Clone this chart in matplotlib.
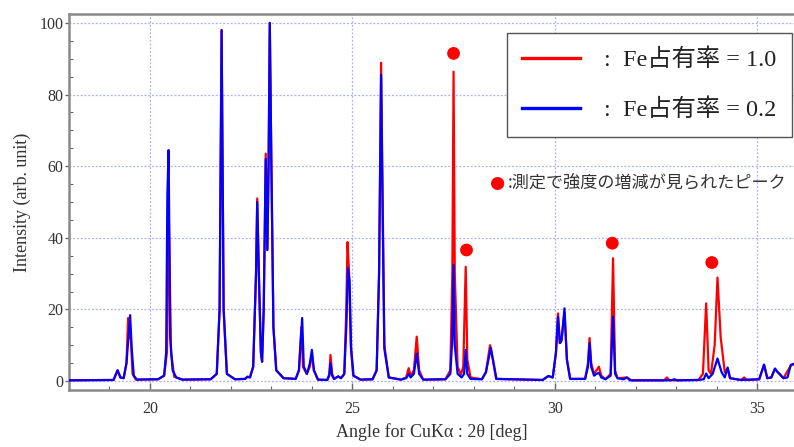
import matplotlib
matplotlib.use("Agg")
import matplotlib.pyplot as plt
from matplotlib.lines import Line2D

# ---------------- data ----------------
# Fe occupancy = 1.0 (red) : polyline vertices (2theta [deg], intensity)
red_x = [18.0, 19.10, 19.20, 19.27, 19.35, 19.42, 19.46, 19.50, 19.53, 19.57, 19.65,
         20.20, 20.35, 20.42, 20.47, 20.52, 20.60, 20.80,
         21.50, 21.65, 21.72, 21.77, 21.82, 21.90, 22.10,
         22.35, 22.41, 22.47, 22.55, 22.62, 22.65, 22.69, 22.74, 22.77, 22.81, 22.86,
         22.90, 22.93, 22.96, 23.00, 23.05, 23.12, 23.30,
         23.60, 23.68, 23.74, 23.78, 23.87, 23.95, 24.00, 24.05, 24.15,
         24.38, 24.43, 24.46, 24.50, 24.55, 24.65, 24.72,
         24.80, 24.85, 24.88, 24.92, 24.96, 25.02, 25.20,
         25.50, 25.60, 25.66, 25.71, 25.75, 25.79, 25.90, 26.20,
         26.33, 26.39, 26.44, 26.52, 26.59, 26.65, 26.75,
         27.30, 27.42, 27.47, 27.50, 27.53, 27.60, 27.68, 27.74, 27.80, 27.84, 27.92,
         28.20, 28.30, 28.40, 28.47, 28.55,
         29.70, 29.84, 29.95, 30.03, 30.08, 30.12, 30.16, 30.24, 30.30, 30.38,
         30.75, 30.82, 30.86, 30.90, 30.97, 31.03, 31.09, 31.15, 31.25,
         31.38, 31.44, 31.49, 31.55, 31.78, 31.90,
         32.70, 32.77, 32.83, 33.55, 33.66, 33.74, 33.80, 33.86, 33.95, 34.02,
         34.10, 34.20, 34.27, 34.33, 34.60, 34.68, 34.75,
         35.05, 35.17, 35.25, 35.35, 35.44, 35.55, 35.65, 35.83, 35.95]
red_y = [0.2, 0.3, 3.0, 1.0, 0.8, 5.0, 17.6, 12.0, 11.5, 2.0, 0.4,
         0.5, 1.5, 8.0, 44.0, 8.0, 1.2, 0.4,
         0.5, 2.0, 20.0, 98.0, 20.0, 2.0, 0.5,
         0.6, 1.2, 1.0, 4.0, 30.0, 51.0, 30.0, 8.0, 5.4, 20.0, 63.5,
         36.6, 60.0, 100.0, 60.0, 15.0, 3.0, 0.8,
         0.6, 3.0, 15.0, 4.0, 2.0, 4.0, 7.5, 3.0, 0.4,
         0.3, 2.0, 7.3, 2.0, 0.6, 1.3, 0.8,
         2.0, 20.0, 38.8, 30.0, 10.0, 1.5, 0.4,
         0.5, 3.0, 30.0, 88.9, 50.0, 10.0, 1.0, 0.4,
         1.0, 3.6, 1.5, 3.0, 12.4, 3.0, 0.4,
         0.5, 3.0, 30.0, 86.4, 30.0, 4.0, 1.8, 4.0, 31.9, 6.0, 1.0,
         0.5, 2.5, 10.0, 6.0, 0.6,
         0.3, 1.4, 1.0, 8.0, 18.9, 10.6, 11.0, 19.0, 6.0, 0.6,
         0.6, 5.0, 12.0, 5.0, 2.0, 3.0, 4.0, 1.5, 0.5,
         2.0, 34.3, 3.0, 0.8, 1.0, 0.2,
         0.2, 1.0, 0.2, 0.3, 2.0, 21.7, 3.0, 2.0, 10.0, 28.9,
         12.0, 2.5, 3.5, 0.8, 0.3, 1.0, 0.3,
         0.5, 4.5, 0.8, 1.0, 3.4, 2.0, 0.8, 4.3, 5.0]

# Fe occupancy = 0.2 (blue)
blue_x = [18.0, 19.10, 19.20, 19.27, 19.35, 19.42, 19.48, 19.51, 19.55, 19.60, 19.68,
          20.20, 20.35, 20.40, 20.43, 20.46, 20.50, 20.56, 20.65, 20.80,
          21.50, 21.65, 21.72, 21.77, 21.82, 21.90, 22.10,
          22.35, 22.41, 22.47, 22.55, 22.62, 22.65, 22.69, 22.74, 22.77, 22.81, 22.86,
          22.90, 22.93, 22.96, 23.00, 23.05, 23.12, 23.30,
          23.60, 23.68, 23.76, 23.80, 23.88, 23.95, 24.00, 24.05, 24.15,
          24.38, 24.43, 24.46, 24.50, 24.55, 24.65, 24.72,
          24.80, 24.85, 24.89, 24.93, 24.97, 25.03, 25.20,
          25.50, 25.60, 25.66, 25.71, 25.75, 25.79, 25.90, 26.20,
          26.33, 26.39, 26.44, 26.52, 26.59, 26.65, 26.75,
          27.30, 27.42, 27.47, 27.50, 27.53, 27.60, 27.70, 27.76, 27.80, 27.84, 27.92,
          28.20, 28.30, 28.42, 28.48, 28.56,
          29.70, 29.84, 29.95, 30.03, 30.08, 30.13, 30.17, 30.24, 30.30, 30.38,
          30.75, 30.82, 30.86, 30.90, 30.97, 31.03, 31.09, 31.15, 31.25,
          31.38, 31.44, 31.49, 31.55, 31.70, 31.78, 31.86,
          32.80, 32.90, 32.96, 33.02, 33.55, 33.68, 33.74, 33.80, 33.90, 34.02,
          34.12, 34.20, 34.27, 34.33, 34.60,
          35.05, 35.17, 35.25, 35.35, 35.44, 35.50, 35.55, 35.65, 35.75, 35.83, 35.95]
blue_y = [0.2, 0.3, 3.0, 1.0, 0.8, 5.0, 14.0, 18.4, 9.0, 1.5, 0.4,
          0.5, 1.5, 8.0, 52.0, 64.5, 12.0, 3.0, 1.0, 0.4,
          0.5, 2.0, 20.0, 98.0, 20.0, 2.0, 0.5,
          0.6, 1.2, 1.0, 4.0, 30.0, 50.0, 30.0, 8.0, 5.4, 20.0, 62.0,
          36.6, 60.0, 100.0, 60.0, 15.0, 3.0, 0.8,
          0.6, 3.0, 17.6, 4.0, 2.0, 5.0, 8.7, 3.0, 0.4,
          0.3, 1.5, 5.0, 1.5, 0.6, 1.3, 0.8,
          2.0, 15.0, 31.6, 28.0, 9.0, 1.5, 0.4,
          0.5, 3.0, 30.0, 85.5, 45.0, 9.0, 1.0, 0.4,
          0.8, 2.0, 1.0, 2.0, 7.7, 2.0, 0.4,
          0.5, 2.0, 12.0, 32.4, 10.0, 2.0, 1.0, 2.0, 8.7, 2.0, 0.6,
          0.5, 2.5, 9.3, 5.5, 0.6,
          0.3, 1.4, 1.0, 8.0, 18.0, 10.6, 11.5, 20.3, 6.0, 0.6,
          0.6, 4.0, 10.6, 4.0, 1.5, 2.0, 2.3, 1.0, 0.5,
          1.5, 18.0, 2.0, 0.8, 0.5, 1.0, 0.2,
          0.2, 0.3, 0.5, 0.2, 0.3, 0.5, 2.1, 0.8, 2.0, 6.3,
          2.5, 1.0, 3.8, 0.8, 0.3,
          0.5, 4.6, 0.8, 1.0, 3.5, 2.5, 2.0, 0.8, 1.0, 4.5, 5.0]

# red markers: peaks whose intensity changed in the measurement
mark_x = [27.50, 27.82, 31.42, 33.88]
mark_y = [91.5, 36.6, 38.5, 33.1]

series_labels = [":  Fe占有率 = 1.0", ":  Fe占有率 = 0.2"]
note_text = ":測定で強度の増減が見られたピーク"
xlabel = "Angle for CuKα : 2θ [deg]"
ylabel = "Intensity (arb. unit)"
xticks = [20, 25, 30, 35]
yticks = [0, 20, 40, 60, 80, 100]

# ---------------- figure ----------------
serif = ["Liberation Serif", "DejaVu Serif"]
mixed = ["Liberation Serif", "Noto Sans CJK JP"]

W, H = 794, 447
fig = plt.figure(figsize=(W / 100, H / 100), dpi=100)
ax = fig.add_axes([69 / W, 1 - 390 / H, 1 - 69 / W, (390 - 14) / H])

ax.plot(red_x, red_y, color="#ff0000", lw=1.6, solid_joinstyle="round", zorder=3)
ax.plot(blue_x, blue_y, color="#0000ff", lw=1.6, solid_joinstyle="round", zorder=4)
ax.scatter(mark_x, mark_y, s=85, color="#ff0000", edgecolors="none", zorder=5)

ax.set_xlim(18.03, 35.91)
ax.set_ylim(-2.5, 102.5)
ax.set_xticks(xticks)
ax.set_yticks(yticks)
ax.set_xticks([x for x in range(18, 36) if x not in xticks], minor=True)
ax.set_yticks([y for y in range(0, 101, 5) if y not in yticks], minor=True)

ax.grid(True, which="major", color="#8c8cf0", ls=(0, (1.5, 1.5)), lw=0.9, alpha=0.7)
ax.set_axisbelow(True)

for side in ["left", "top", "bottom"]:
    ax.spines[side].set_color("#8a8a8a")
    ax.spines[side].set_linewidth(1.8)
ax.spines["right"].set_visible(False)

ax.tick_params(axis="x", which="both", direction="in", color="#666666",
               labelsize=11.5, pad=8)
ax.tick_params(axis="x", which="major", length=5, width=1)
ax.tick_params(axis="x", which="minor", length=3, width=0.8)
ax.tick_params(axis="y", which="major", direction="out", length=3, width=1,
               color="#666666", labelsize=11.5, pad=1)
ax.tick_params(axis="y", which="minor", direction="in", length=3, width=0.8,
               color="#666666")
for lab in ax.get_xticklabels() + ax.get_yticklabels():
    lab.set_family(serif)
    lab.set_color("#333333")

ax.set_xlabel(xlabel, family=serif, fontsize=13, color="#333333", labelpad=4)
ax.set_ylabel(ylabel, family=serif, fontsize=13, color="#333333", labelpad=6)

# legend
handles = [Line2D([], [], color="#ff0000", lw=2.4),
           Line2D([], [], color="#0000ff", lw=2.4)]
leg = ax.legend(handles, series_labels, loc="upper right",
                bbox_to_anchor=(1 - 2 / (W - 69), 1 - 19 / 376),
                prop={"family": mixed, "size": 17.5},
                frameon=True, fancybox=False, edgecolor="#555555",
                framealpha=1, borderpad=0.65, labelspacing=1.13,
                handlelength=2.35, handletextpad=1.0, borderaxespad=0)
leg.get_frame().set_linewidth(1.0)
for t in leg.get_texts():
    t.set_color("#222222")

# note with red dot
fig.text(497 / W, 1 - 183 / H, "●", color="#ff0000", fontsize=12.5,
         ha="center", va="center", family=["DejaVu Sans"])
fig.text(508 / W, 1 - 183 / H, note_text, color="#333333", fontsize=12.3,
         ha="left", va="center", family=["Noto Sans CJK JP", "DejaVu Sans"])

fig.savefig("out.png", dpi=100)
